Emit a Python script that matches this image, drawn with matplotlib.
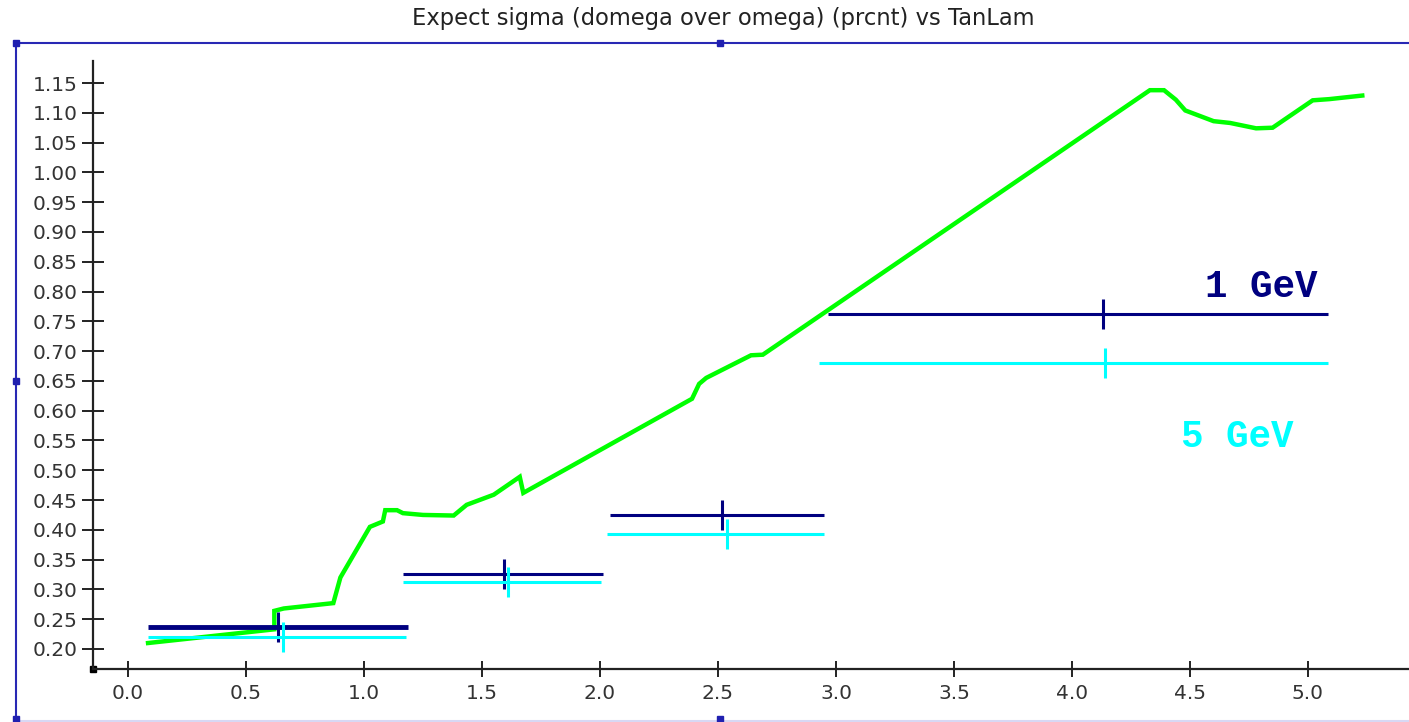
import numpy as np
import matplotlib.pyplot as plt
from matplotlib.lines import Line2D

# green curve: expected sigma vs tan(lambda)
tanlam = [0.085, 0.62, 0.62, 0.66, 0.87, 0.90, 1.025, 1.08, 1.09, 1.14, 1.165,
          1.25, 1.38, 1.435, 1.55, 1.66, 1.675, 2.39, 2.42, 2.45, 2.64, 2.69,
          4.33, 4.39, 4.44, 4.48, 4.60, 4.67, 4.78, 4.85, 5.02, 5.09, 5.23]
sigma = [0.210, 0.233, 0.264, 0.268, 0.277, 0.320, 0.405, 0.414, 0.433, 0.433, 0.428,
         0.425, 0.424, 0.442, 0.459, 0.489, 0.462, 0.620, 0.645, 0.655, 0.693, 0.694,
         1.138, 1.138, 1.122, 1.104, 1.086, 1.083, 1.074, 1.075, 1.121, 1.123, 1.129]

# measured points, 1 GeV
gev1_x = [0.636, 1.593, 2.517, 4.13]
gev1_lo = [0.085, 1.165, 2.042, 2.966]
gev1_hi = [1.186, 2.013, 2.95, 5.085]
gev1_y = [0.237, 0.326, 0.425, 0.762]

# measured points, 5 GeV
gev5_x = [0.657, 1.61, 2.538, 4.14]
gev5_lo = [0.085, 1.165, 2.03, 2.93]
gev5_hi = [1.18, 2.005, 2.95, 5.085]
gev5_y = [0.220, 0.312, 0.393, 0.680]

xticks = np.arange(0, 5.01, 0.5)
yticks = np.arange(0.20, 1.151, 0.05)

fig = plt.figure(figsize=(14.09, 7.22), dpi=100)
fig.patch.set_facecolor('white')
ax = fig.add_axes([93 / 1409, 53 / 722, 1 - 93 / 1409, 608 / 722])
ax.set_xlim(-0.1483, 5.428)
ax.set_ylim(0.1664, 1.187)

ax.plot(tanlam, sigma, color='#00ff00', lw=3.2, solid_joinstyle='miter', zorder=2)


def bars(xc, lo, hi, y, color, lws, ms):
    for i in range(len(xc)):
        ax.hlines(y[i], lo[i], hi[i], color=color, lw=lws[i], zorder=3)
        ax.plot(xc[i], y[i], marker='|', color=color, ms=ms, mew=2.2, zorder=3)


bars(gev1_x, gev1_lo, gev1_hi, gev1_y, '#000080', [3.5, 2.2, 2.2, 2.2], 22)
bars(gev5_x, gev5_lo, gev5_hi, gev5_y, '#00ffff', [2.2, 2.2, 2.2, 2.2], 22)

ax.text(4.565, 0.791, '1 GeV', color='#000080', fontsize=27, fontweight='bold',
        family='Liberation Mono', ha='left', va='baseline')
ax.text(4.46, 0.539, '5 GeV', color='#00ffff', fontsize=27, fontweight='bold',
        family='Liberation Mono', ha='left', va='baseline')

for s in ['top', 'right']:
    ax.spines[s].set_visible(False)
for s in ['left', 'bottom']:
    ax.spines[s].set_linewidth(1.6)
    ax.spines[s].set_color('#222222')
ax.set_xticks(xticks)
ax.set_yticks(yticks)
ax.set_xticklabels(['%.1f' % v for v in xticks])
ax.set_yticklabels(['%.2f' % v for v in yticks])
ax.tick_params(axis='y', direction='inout', length=16, width=1.4, pad=3,
               labelsize=14.5, labelcolor='#333333', color='#222222')
ax.tick_params(axis='x', direction='inout', length=12, width=1.4, pad=5,
               labelsize=14.5, labelcolor='#333333', color='#222222')
ax.plot(0, 0, 's', color='black', ms=4, transform=ax.transAxes, clip_on=False)

fig.text(723 / 1409, 1 - 19 / 722, 'Expect sigma (domega over omega) (prcnt) vs TanLam',
         ha='center', va='center', fontsize=16.3, color='#222222')

# selection frame around the plot
fx0, fy0 = 16 / 1409, 1 - 43 / 722
fig.add_artist(Line2D([fx0, 1], [fy0, fy0], color='#2828b4', lw=1.5))
fig.add_artist(Line2D([fx0, fx0], [0, fy0], color='#2828b4', lw=1.5))
fig.add_artist(Line2D([fx0, 1], [0.002, 0.002], color='#d8d8f4', lw=1.5))
for px, py in [(16, 43), (720, 43), (16, 381), (16, 719), (720, 719)]:
    fig.add_artist(Line2D([px / 1409], [1 - py / 722], marker='s', color='#2020b0', ms=5))

fig.savefig('out.png', dpi=100)
